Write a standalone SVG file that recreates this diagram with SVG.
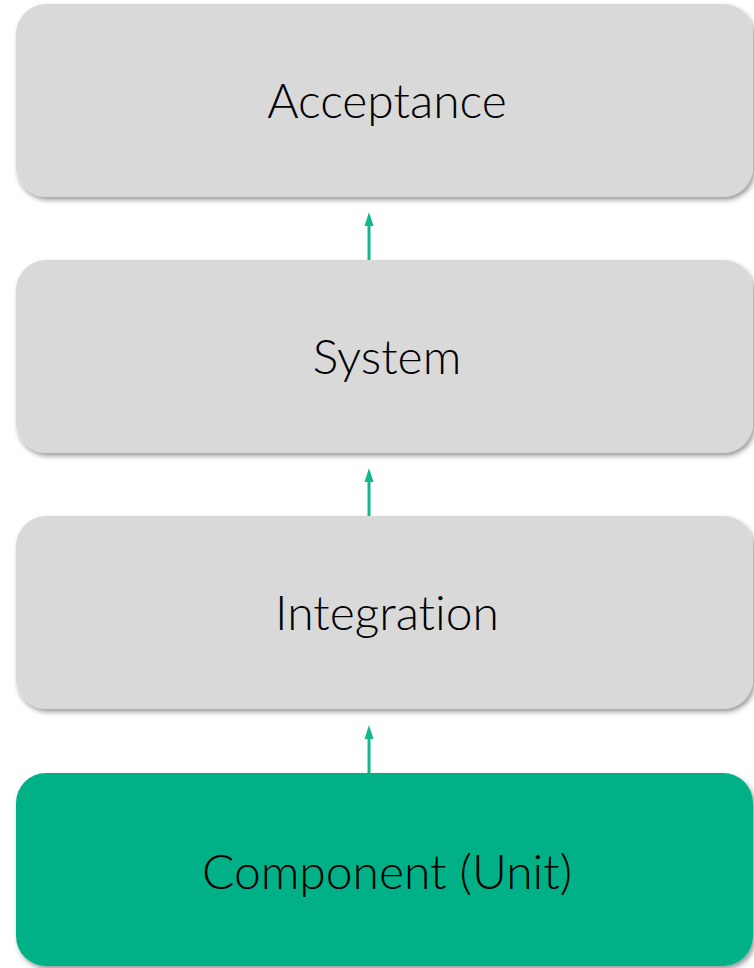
<svg xmlns="http://www.w3.org/2000/svg" width="754" height="968" viewBox="0 0 754 968">
<style>
.box{fill:#d9d9d9;filter:url(#sh)}
.green{fill:#00b188}
.lbl{font-family:Lato,"Open Sans",sans-serif;font-size:48px;font-weight:300;fill:#000;text-anchor:middle;font-variant-ligatures:none}
.con{stroke:#14b88d;stroke-width:3;fill:none}
.ah{fill:#14b88d}
</style>
<defs>
<filter id="sh" x="-5%" y="-10%" width="110%" height="125%">
<feDropShadow dx="2" dy="3" stdDeviation="2.5" flood-color="#000" flood-opacity="0.4"/>
</filter>
</defs>
<g id="connectors">
<path d="M369,260 V222" class="con"/>
<path class="ah" d="M364.5,226 L369,212 L373.5,226 Z"/>
<path d="M369,516 V478" class="con"/>
<path class="ah" d="M364.5,482 L369,468 L373.5,482 Z"/>
<path d="M369,773 V735" class="con"/>
<path class="ah" d="M364.5,739 L369,725 L373.5,739 Z"/>
</g>
<g id="acceptance">
<rect class="box" x="16" y="4" width="737" height="193" rx="30"/>
<text class="lbl" x="387" y="118">Acceptance</text>
</g>
<g id="system">
<rect class="box" x="16" y="260" width="737" height="193" rx="30"/>
<text class="lbl" x="387" y="374">System</text>
</g>
<g id="integration">
<rect class="box" x="16" y="516" width="737" height="193" rx="30"/>
<text class="lbl" x="387" y="630">Integration</text>
</g>
<g id="component">
<rect class="box green" x="16" y="773" width="737" height="193" rx="30"/>
<text class="lbl" x="387" y="889">Component (Unit)</text>
</g>
</svg>
